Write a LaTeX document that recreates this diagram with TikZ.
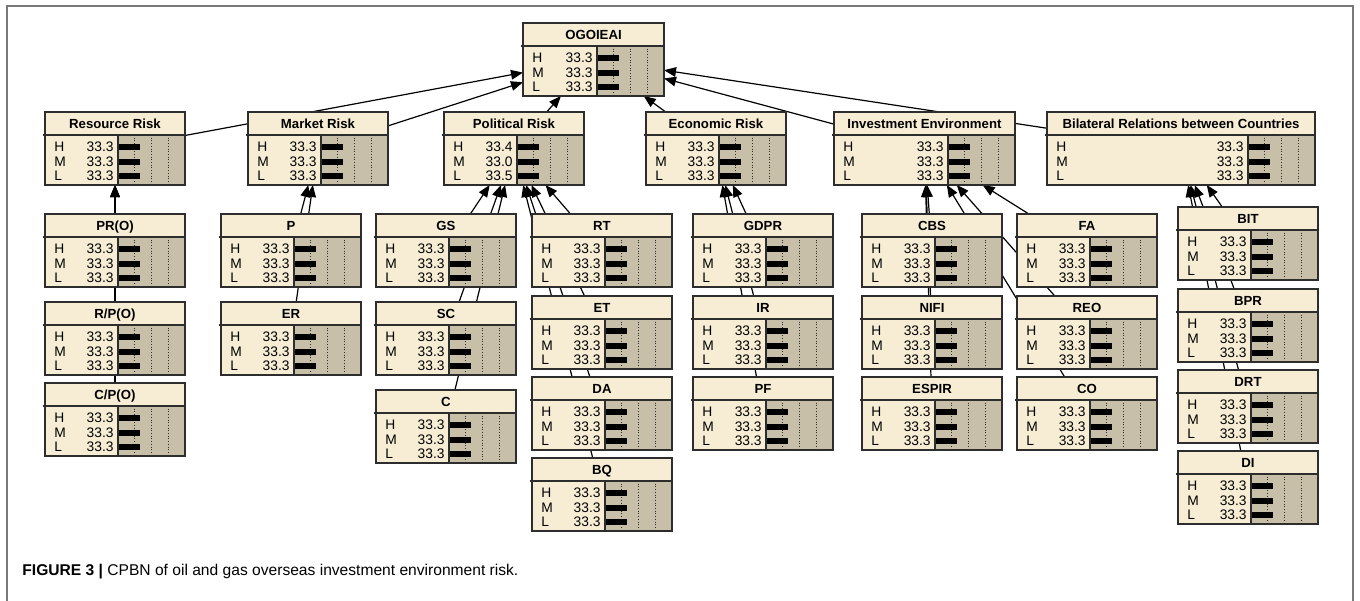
\documentclass[tikz,border=0pt]{standalone}
\usepackage{fontspec}
\setmainfont{Liberation Sans}
\usetikzlibrary{arrows.meta}
\definecolor{bncream}{RGB}{247,237,212}
\definecolor{bntan}{RGB}{200,191,168}
\definecolor{bnedge}{RGB}{45,45,45}
\definecolor{framegray}{RGB}{120,120,120}
\pgfdeclarelayer{background}
\pgfsetlayers{background,main}
\tikzset{
  bnlink/.style={draw=black, line width=0.6pt, -{Triangle[length=6pt,width=4.8pt]}},
  bnborder/.style={draw=bnedge, line width=0.65pt},
  bnsep/.style={draw=bnedge, line width=0.9pt},
  bnlabel/.style={inner sep=0, text height=4.9pt, text depth=0pt, font=\fontsize{6.9pt}{7pt}\selectfont},
  bntitle/.style={inner sep=0, text height=4.7pt, text depth=0pt, font=\fontsize{6.6pt}{7pt}\selectfont\bfseries},
  bngrid/.style={draw=bnedge, line width=0.35pt, densely dotted},
  bnframe/.style={draw=framegray, line width=0.75pt},
}
\newcommand{\bnrow}[3]{%
  \node[bnlabel, anchor=west] (\bnN-l#1) at (\bnL+9,#3) {#1};
  \node[bnlabel, anchor=east] (\bnN-v#1) at (\bnD-4,#3) {#2};
  \fill[black] (\bnD,#3-3) rectangle ({\bnD+#2*0.67},#3+3);
}
\newcommand{\bnbox}[9]{%
  \def\bnN{#1}\def\bnL{#2}%
  \pgfmathsetmacro\bnR{#2+#4}%
  \pgfmathsetmacro\bnB{#3+73}%
  \pgfmathsetmacro\bnT{#3+23}%
  \pgfmathsetmacro\bnD{#2+#5}%
  \pgfmathsetmacro\bnC{#2+#4/2}%
  \node[inner sep=0, outer sep=0, fill=bncream, minimum width={#4*0.5pt}, minimum height={73*0.5pt}, anchor=north west] (#1) at (#2,#3) {};
  \fill[bntan] (\bnD,\bnT) rectangle (\bnR,\bnB);
  \foreach \q in {16.75,33.5,50.25} \draw[bngrid] (\bnD+\q,\bnT) -- (\bnD+\q,\bnB);
  \bnrow{H}{#7}{\bnT+12}
  \bnrow{M}{#8}{\bnT+26.5}
  \bnrow{L}{#9}{\bnT+41}
  \draw[bnborder] (\bnD,\bnT) -- (\bnD,\bnB);
  \draw[bnsep] (#2-2.5,\bnT) -- (\bnR,\bnT);
  \draw[bnborder] (#2,#3) rectangle (\bnR,\bnB);
  \node[bntitle] (#1-title) at (\bnC,#3+11.5) {#6};
}
\begin{document}
\begin{tikzpicture}[x=0.5pt,y=-0.5pt]
\useasboundingbox (0,0) rectangle (1360,600);
\draw[bnframe] (7,620) -- (7,6) -- (1353,6) -- (1353,620);

\bnbox{og}{523}{23}{141}{74}{OGOIEAI}{33.3}{33.3}{33.3}
\bnbox{res}{45}{112}{140}{73}{Resource Risk}{33.3}{33.3}{33.3}
\bnbox{mkt}{248}{112}{140}{73}{Market Risk}{33.3}{33.3}{33.3}
\bnbox{pol}{444}{112}{140}{73}{Political Risk}{33.4}{33.0}{33.5}
\bnbox{eco}{646}{112}{140}{73}{Economic Risk}{33.3}{33.3}{33.3}
\bnbox{inv}{834}{112}{181}{114}{Investment Environment}{33.3}{33.3}{33.3}
\bnbox{bil}{1047}{112}{268}{201}{Bilateral Relations between Countries}{33.3}{33.3}{33.3}

\bnbox{pro}{45}{214}{140}{73}{PR(O)}{33.3}{33.3}{33.3}
\bnbox{rpo}{45}{302}{140}{73}{R/P(O)}{33.3}{33.3}{33.3}
\bnbox{cpo}{45}{383}{140}{73}{C/P(O)}{33.3}{33.3}{33.3}

\bnbox{p}{221}{214}{140}{73}{P}{33.3}{33.3}{33.3}
\bnbox{er}{221}{302}{140}{73}{ER}{33.3}{33.3}{33.3}

\bnbox{gs}{376}{214}{140}{73}{GS}{33.3}{33.3}{33.3}
\bnbox{sc}{376}{302}{140}{73}{SC}{33.3}{33.3}{33.3}
\bnbox{c}{376}{390}{140}{73}{C}{33.3}{33.3}{33.3}

\bnbox{rt}{532}{214}{140}{73}{RT}{33.3}{33.3}{33.3}
\bnbox{et}{532}{296}{140}{73}{ET}{33.3}{33.3}{33.3}
\bnbox{da}{532}{377}{140}{73}{DA}{33.3}{33.3}{33.3}
\bnbox{bq}{532}{458}{140}{73}{BQ}{33.3}{33.3}{33.3}

\bnbox{gdpr}{693}{214}{140}{73}{GDPR}{33.3}{33.3}{33.3}
\bnbox{ir}{693}{296}{140}{73}{IR}{33.3}{33.3}{33.3}
\bnbox{pf}{693}{377}{140}{73}{PF}{33.3}{33.3}{33.3}

\bnbox{cbs}{862}{214}{140}{73}{CBS}{33.3}{33.3}{33.3}
\bnbox{nifi}{862}{296}{140}{73}{NIFI}{33.3}{33.3}{33.3}
\bnbox{espir}{862}{377}{140}{73}{ESPIR}{33.3}{33.3}{33.3}

\bnbox{fa}{1017}{214}{140}{73}{FA}{33.3}{33.3}{33.3}
\bnbox{reo}{1017}{296}{140}{73}{REO}{33.3}{33.3}{33.3}
\bnbox{co}{1017}{377}{140}{73}{CO}{33.3}{33.3}{33.3}

\bnbox{bit}{1178}{207}{140}{73}{BIT}{33.3}{33.3}{33.3}
\bnbox{bpr}{1178}{289}{140}{73}{BPR}{33.3}{33.3}{33.3}
\bnbox{drt}{1178}{370}{140}{73}{DRT}{33.3}{33.3}{33.3}
\bnbox{di}{1178}{451}{140}{73}{DI}{33.3}{33.3}{33.3}

\begin{pgfonlayer}{background}
\foreach \ch/\pa in {res/og, mkt/og, pol/og, eco/og, inv/og, bil/og,
  pro/res, rpo/res, cpo/res, p/mkt, er/mkt,
  gs/pol, sc/pol, c/pol, rt/pol, et/pol, da/pol, bq/pol,
  gdpr/eco, ir/eco, pf/eco,
  cbs/inv, nifi/inv, espir/inv, fa/inv, reo/inv, co/inv,
  bit/bil, bpr/bil, drt/bil, di/bil}
  \draw[bnlink] (\ch) -- (\pa);
\end{pgfonlayer}

\node[inner sep=0, anchor=base west, font=\fontsize{7.8pt}{8pt}\selectfont] (caption) at (22,575)
  {\textbf{FIGURE 3 |} CPBN of oil and gas overseas investment environment risk.};
\end{tikzpicture}
\end{document}
